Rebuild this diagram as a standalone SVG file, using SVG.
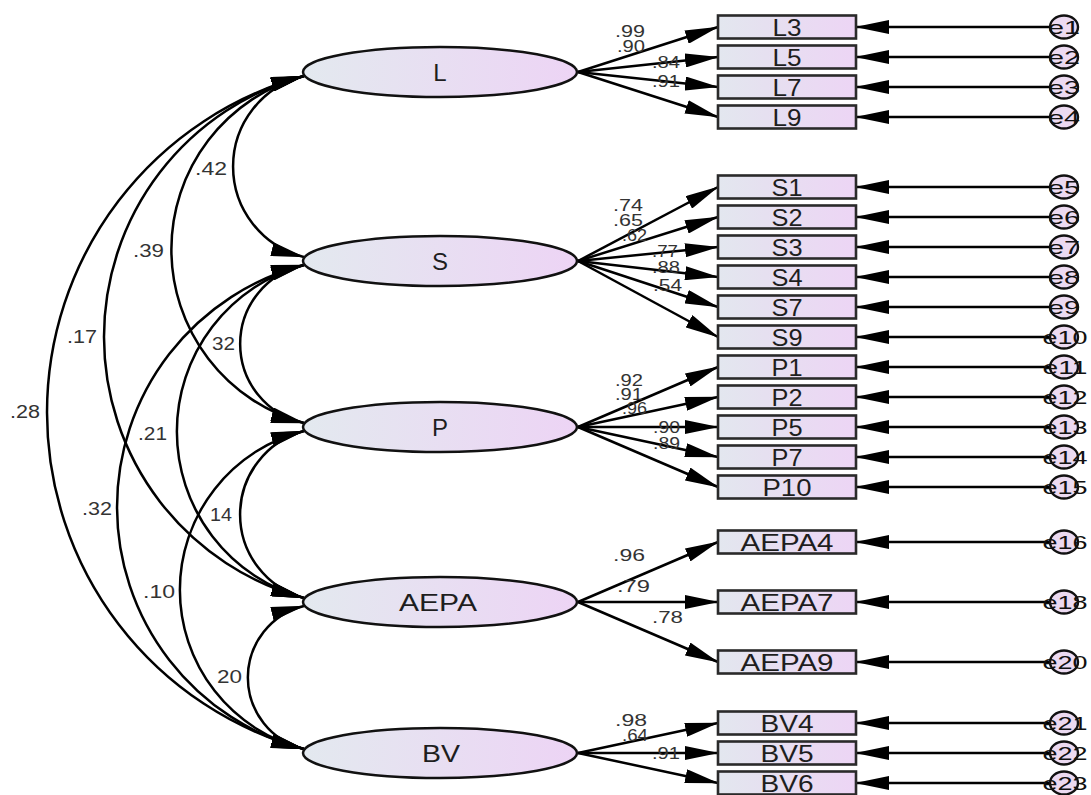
<svg xmlns="http://www.w3.org/2000/svg" width="1091" height="795" viewBox="0 0 1091 795">
<defs>
<linearGradient id="gE" x1="0" y1="0" x2="1" y2="0"><stop offset="0" stop-color="#e3e9ef"/><stop offset="1" stop-color="#edd4f5"/></linearGradient>
<linearGradient id="gB" x1="0" y1="0" x2="1" y2="0"><stop offset="0" stop-color="#e3e7ef"/><stop offset="0.35" stop-color="#e6e0f0"/><stop offset="1" stop-color="#edd5f5"/></linearGradient>
<marker id="ah" markerUnits="userSpaceOnUse" viewBox="0 0 34 14" markerWidth="34" markerHeight="14" refX="33" refY="7" orient="auto-start-reverse"><path d="M0,0 L34,7 L0,14 z" fill="#000"/></marker>
</defs>
<style>
.lat{fill:url(#gE);stroke:#111;stroke-width:2.5}
.box{fill:url(#gB);stroke:#2a2a2a;stroke-width:2.6}
.err{fill:#ecdaf1;stroke:#111;stroke-width:2.4}
.cn{fill:none;stroke:#000;stroke-width:2.5}
.arr{marker-end:url(#ah)}
.cov{marker-start:url(#ah);marker-end:url(#ah)}
text{font-family:"Liberation Sans",Arial,sans-serif}
.tl{font-size:24px;fill:#1e1e1e;text-anchor:middle}
.tb{font-size:24px;fill:#1e1e1e;text-anchor:middle}
.te{font-size:19px;fill:#111;text-anchor:middle}
.tw{font-size:17px;fill:#333}
.tc{font-size:18px;fill:#333}
</style>

<g id="connectors">
<path class="cn cov" d="M304,76 A93.2,93.2 0 0 0 304,257"/>
<path class="cn cov" d="M304,76 A179.8,179.8 0 0 0 304,423"/>
<path class="cn cov" d="M304,76 A270.3,270.3 0 0 0 304,598"/>
<path class="cn cov" d="M304,76 A348.8,348.8 0 0 0 304,749"/>
<path class="cn cov" d="M304,265 A80.8,80.8 0 0 0 304,423"/>
<path class="cn cov" d="M304,265 A172.6,172.6 0 0 0 304,598"/>
<path class="cn cov" d="M304,265 A250.1,250.1 0 0 0 304,749"/>
<path class="cn cov" d="M304,431 A86.5,86.5 0 0 0 304,598"/>
<path class="cn cov" d="M304,431 A163.9,163.9 0 0 0 304,749"/>
<path class="cn cov" d="M304,606 A73.6,73.6 0 0 0 304,749"/>
<path class="cn arr" d="M578,72 L718,27"/>
<path class="cn arr" d="M578,72 L718,57"/>
<path class="cn arr" d="M578,72 L718,87"/>
<path class="cn arr" d="M578,72 L718,117"/>
<path class="cn arr" d="M578,261 L718,187"/>
<path class="cn arr" d="M578,261 L718,217"/>
<path class="cn arr" d="M578,261 L718,247"/>
<path class="cn arr" d="M578,261 L718,277"/>
<path class="cn arr" d="M578,261 L718,307"/>
<path class="cn arr" d="M578,261 L718,337"/>
<path class="cn arr" d="M578,427 L718,367"/>
<path class="cn arr" d="M578,427 L718,397"/>
<path class="cn arr" d="M578,427 L718,427"/>
<path class="cn arr" d="M578,427 L718,457"/>
<path class="cn arr" d="M578,427 L718,487"/>
<path class="cn arr" d="M578,602 L718,542"/>
<path class="cn arr" d="M578,602 L718,602"/>
<path class="cn arr" d="M578,602 L718,662"/>
<path class="cn arr" d="M578,753 L718,723"/>
<path class="cn arr" d="M578,753 L718,753"/>
<path class="cn arr" d="M578,753 L718,783"/>
<path class="cn arr" d="M1050,27 L856,27"/>
<path class="cn arr" d="M1050,57 L856,57"/>
<path class="cn arr" d="M1050,87 L856,87"/>
<path class="cn arr" d="M1050,117 L856,117"/>
<path class="cn arr" d="M1050,187 L856,187"/>
<path class="cn arr" d="M1050,217 L856,217"/>
<path class="cn arr" d="M1050,247 L856,247"/>
<path class="cn arr" d="M1050,277 L856,277"/>
<path class="cn arr" d="M1050,307 L856,307"/>
<path class="cn arr" d="M1050,337 L856,337"/>
<path class="cn arr" d="M1050,367 L856,367"/>
<path class="cn arr" d="M1050,397 L856,397"/>
<path class="cn arr" d="M1050,427 L856,427"/>
<path class="cn arr" d="M1050,457 L856,457"/>
<path class="cn arr" d="M1050,487 L856,487"/>
<path class="cn arr" d="M1050,542 L856,542"/>
<path class="cn arr" d="M1050,602 L856,602"/>
<path class="cn arr" d="M1050,662 L856,662"/>
<path class="cn arr" d="M1050,723 L856,723"/>
<path class="cn arr" d="M1050,753 L856,753"/>
<path class="cn arr" d="M1050,783 L856,783"/>
</g>

<g id="labels-cov">
<text class="tc" x="195" y="175" textLength="32" lengthAdjust="spacingAndGlyphs">.42</text>
<text class="tc" x="133" y="257" textLength="31" lengthAdjust="spacingAndGlyphs">.39</text>
<text class="tc" x="67" y="343" textLength="30" lengthAdjust="spacingAndGlyphs">.17</text>
<text class="tc" x="10" y="418" textLength="30" lengthAdjust="spacingAndGlyphs">.28</text>
<text class="tc" x="212" y="350" textLength="23" lengthAdjust="spacingAndGlyphs">32</text>
<text class="tc" x="138" y="440" textLength="29" lengthAdjust="spacingAndGlyphs">.21</text>
<text class="tc" x="82" y="515" textLength="30" lengthAdjust="spacingAndGlyphs">.32</text>
<text class="tc" x="210" y="521" textLength="22" lengthAdjust="spacingAndGlyphs">14</text>
<text class="tc" x="143" y="598" textLength="32" lengthAdjust="spacingAndGlyphs">.10</text>
<text class="tc" x="217" y="683" textLength="25" lengthAdjust="spacingAndGlyphs">20</text>
</g>

<g id="labels-load">
<text class="tw" x="615" y="37" textLength="30" lengthAdjust="spacingAndGlyphs">.99</text>
<text class="tw" x="617" y="52" textLength="28" lengthAdjust="spacingAndGlyphs">.90</text>
<text class="tw" x="652" y="68" textLength="28" lengthAdjust="spacingAndGlyphs">.84</text>
<text class="tw" x="652" y="87" textLength="28" lengthAdjust="spacingAndGlyphs">.91</text>
<text class="tw" x="613" y="211" textLength="30" lengthAdjust="spacingAndGlyphs">.74</text>
<text class="tw" x="613" y="226" textLength="30" lengthAdjust="spacingAndGlyphs">.65</text>
<text class="tw" x="622" y="241" textLength="25" lengthAdjust="spacingAndGlyphs">.62</text>
<text class="tw" x="652" y="257" textLength="26" lengthAdjust="spacingAndGlyphs">.77</text>
<text class="tw" x="652" y="273" textLength="28" lengthAdjust="spacingAndGlyphs">.88</text>
<text class="tw" x="653" y="291" textLength="29" lengthAdjust="spacingAndGlyphs">.54</text>
<text class="tw" x="615" y="386" textLength="28" lengthAdjust="spacingAndGlyphs">.92</text>
<text class="tw" x="615" y="400" textLength="28" lengthAdjust="spacingAndGlyphs">.91</text>
<text class="tw" x="622" y="414" textLength="25" lengthAdjust="spacingAndGlyphs">.96</text>
<text class="tw" x="653" y="433" textLength="27" lengthAdjust="spacingAndGlyphs">.90</text>
<text class="tw" x="653" y="449" textLength="27" lengthAdjust="spacingAndGlyphs">.89</text>
<text class="tw" x="613" y="561" textLength="32" lengthAdjust="spacingAndGlyphs">.96</text>
<text class="tw" x="617" y="592" textLength="33" lengthAdjust="spacingAndGlyphs">.79</text>
<text class="tw" x="652" y="623" textLength="31" lengthAdjust="spacingAndGlyphs">.78</text>
<text class="tw" x="615" y="726" textLength="32" lengthAdjust="spacingAndGlyphs">.98</text>
<text class="tw" x="622" y="741" textLength="26" lengthAdjust="spacingAndGlyphs">.64</text>
<text class="tw" x="652" y="759" textLength="28" lengthAdjust="spacingAndGlyphs">.91</text>
</g>

<g id="L"><ellipse class="lat" cx="440" cy="72" rx="137" ry="25"/><text class="tl" x="440" y="81">L</text></g>
<g id="S"><ellipse class="lat" cx="440" cy="261" rx="137" ry="25"/><text class="tl" x="440" y="270">S</text></g>
<g id="P"><ellipse class="lat" cx="440" cy="427" rx="137" ry="25"/><text class="tl" x="440" y="436">P</text></g>
<g id="AEPA"><ellipse class="lat" cx="440" cy="602" rx="137" ry="25"/><text class="tl" x="438" y="611" textLength="78" lengthAdjust="spacingAndGlyphs">AEPA</text></g>
<g id="BV"><ellipse class="lat" cx="440" cy="753" rx="137" ry="25"/><text class="tl" x="441" y="762" textLength="38" lengthAdjust="spacingAndGlyphs">BV</text></g>

<g id="L3"><rect class="box" x="718" y="15.5" width="138" height="23"/><text class="tb" x="787" y="36" textLength="29" lengthAdjust="spacingAndGlyphs">L3</text></g>
<g id="L5"><rect class="box" x="718" y="45.5" width="138" height="23"/><text class="tb" x="787" y="66" textLength="29" lengthAdjust="spacingAndGlyphs">L5</text></g>
<g id="L7"><rect class="box" x="718" y="75.5" width="138" height="23"/><text class="tb" x="787" y="96" textLength="29" lengthAdjust="spacingAndGlyphs">L7</text></g>
<g id="L9"><rect class="box" x="718" y="105.5" width="138" height="23"/><text class="tb" x="787" y="126" textLength="29" lengthAdjust="spacingAndGlyphs">L9</text></g>
<g id="S1"><rect class="box" x="718" y="175.5" width="138" height="23"/><text class="tb" x="787" y="196" textLength="31" lengthAdjust="spacingAndGlyphs">S1</text></g>
<g id="S2"><rect class="box" x="718" y="205.5" width="138" height="23"/><text class="tb" x="787" y="226" textLength="31" lengthAdjust="spacingAndGlyphs">S2</text></g>
<g id="S3"><rect class="box" x="718" y="235.5" width="138" height="23"/><text class="tb" x="787" y="256" textLength="31" lengthAdjust="spacingAndGlyphs">S3</text></g>
<g id="S4"><rect class="box" x="718" y="265.5" width="138" height="23"/><text class="tb" x="787" y="286" textLength="31" lengthAdjust="spacingAndGlyphs">S4</text></g>
<g id="S7"><rect class="box" x="718" y="295.5" width="138" height="23"/><text class="tb" x="787" y="316" textLength="31" lengthAdjust="spacingAndGlyphs">S7</text></g>
<g id="S9"><rect class="box" x="718" y="325.5" width="138" height="23"/><text class="tb" x="787" y="346" textLength="31" lengthAdjust="spacingAndGlyphs">S9</text></g>
<g id="P1"><rect class="box" x="718" y="355.5" width="138" height="23"/><text class="tb" x="787" y="376" textLength="31" lengthAdjust="spacingAndGlyphs">P1</text></g>
<g id="P2"><rect class="box" x="718" y="385.5" width="138" height="23"/><text class="tb" x="787" y="406" textLength="31" lengthAdjust="spacingAndGlyphs">P2</text></g>
<g id="P5"><rect class="box" x="718" y="415.5" width="138" height="23"/><text class="tb" x="787" y="436" textLength="31" lengthAdjust="spacingAndGlyphs">P5</text></g>
<g id="P7"><rect class="box" x="718" y="445.5" width="138" height="23"/><text class="tb" x="787" y="466" textLength="31" lengthAdjust="spacingAndGlyphs">P7</text></g>
<g id="P10"><rect class="box" x="718" y="475.5" width="138" height="23"/><text class="tb" x="787" y="496" textLength="49" lengthAdjust="spacingAndGlyphs">P10</text></g>
<g id="AEPA4"><rect class="box" x="718" y="530.5" width="138" height="23"/><text class="tb" x="787" y="551" textLength="93" lengthAdjust="spacingAndGlyphs">AEPA4</text></g>
<g id="AEPA7"><rect class="box" x="718" y="590.5" width="138" height="23"/><text class="tb" x="787" y="611" textLength="93" lengthAdjust="spacingAndGlyphs">AEPA7</text></g>
<g id="AEPA9"><rect class="box" x="718" y="650.5" width="138" height="23"/><text class="tb" x="787" y="671" textLength="93" lengthAdjust="spacingAndGlyphs">AEPA9</text></g>
<g id="BV4"><rect class="box" x="718" y="711.5" width="138" height="23"/><text class="tb" x="787" y="732" textLength="53" lengthAdjust="spacingAndGlyphs">BV4</text></g>
<g id="BV5"><rect class="box" x="718" y="741.5" width="138" height="23"/><text class="tb" x="787" y="762" textLength="53" lengthAdjust="spacingAndGlyphs">BV5</text></g>
<g id="BV6"><rect class="box" x="718" y="771.5" width="138" height="23"/><text class="tb" x="787" y="792" textLength="53" lengthAdjust="spacingAndGlyphs">BV6</text></g>

<g id="e1"><ellipse class="err" cx="1064" cy="27" rx="14" ry="11.5"/><text class="te" x="1064" y="34" textLength="32" lengthAdjust="spacingAndGlyphs">e1</text></g>
<g id="e2"><ellipse class="err" cx="1064" cy="57" rx="14" ry="11.5"/><text class="te" x="1064" y="64" textLength="32" lengthAdjust="spacingAndGlyphs">e2</text></g>
<g id="e3"><ellipse class="err" cx="1064" cy="87" rx="14" ry="11.5"/><text class="te" x="1064" y="94" textLength="32" lengthAdjust="spacingAndGlyphs">e3</text></g>
<g id="e4"><ellipse class="err" cx="1064" cy="117" rx="14" ry="11.5"/><text class="te" x="1064" y="124" textLength="32" lengthAdjust="spacingAndGlyphs">e4</text></g>
<g id="e5"><ellipse class="err" cx="1064" cy="187" rx="14" ry="11.5"/><text class="te" x="1064" y="194" textLength="32" lengthAdjust="spacingAndGlyphs">e5</text></g>
<g id="e6"><ellipse class="err" cx="1064" cy="217" rx="14" ry="11.5"/><text class="te" x="1064" y="224" textLength="32" lengthAdjust="spacingAndGlyphs">e6</text></g>
<g id="e7"><ellipse class="err" cx="1064" cy="247" rx="14" ry="11.5"/><text class="te" x="1064" y="254" textLength="32" lengthAdjust="spacingAndGlyphs">e7</text></g>
<g id="e8"><ellipse class="err" cx="1064" cy="277" rx="14" ry="11.5"/><text class="te" x="1064" y="284" textLength="32" lengthAdjust="spacingAndGlyphs">e8</text></g>
<g id="e9"><ellipse class="err" cx="1064" cy="307" rx="14" ry="11.5"/><text class="te" x="1064" y="314" textLength="32" lengthAdjust="spacingAndGlyphs">e9</text></g>
<g id="e10"><ellipse class="err" cx="1064" cy="337" rx="14" ry="11.5"/><text class="te" x="1065" y="344" textLength="45" lengthAdjust="spacingAndGlyphs">e10</text></g>
<g id="e11"><ellipse class="err" cx="1064" cy="367" rx="14" ry="11.5"/><text class="te" x="1065" y="374" textLength="45" lengthAdjust="spacingAndGlyphs">e11</text></g>
<g id="e12"><ellipse class="err" cx="1064" cy="397" rx="14" ry="11.5"/><text class="te" x="1065" y="404" textLength="45" lengthAdjust="spacingAndGlyphs">e12</text></g>
<g id="e13"><ellipse class="err" cx="1064" cy="427" rx="14" ry="11.5"/><text class="te" x="1065" y="434" textLength="45" lengthAdjust="spacingAndGlyphs">e13</text></g>
<g id="e14"><ellipse class="err" cx="1064" cy="457" rx="14" ry="11.5"/><text class="te" x="1065" y="464" textLength="45" lengthAdjust="spacingAndGlyphs">e14</text></g>
<g id="e15"><ellipse class="err" cx="1064" cy="487" rx="14" ry="11.5"/><text class="te" x="1065" y="494" textLength="45" lengthAdjust="spacingAndGlyphs">e15</text></g>
<g id="e16"><ellipse class="err" cx="1064" cy="542" rx="14" ry="11.5"/><text class="te" x="1065" y="549" textLength="45" lengthAdjust="spacingAndGlyphs">e16</text></g>
<g id="e18"><ellipse class="err" cx="1064" cy="602" rx="14" ry="11.5"/><text class="te" x="1065" y="609" textLength="45" lengthAdjust="spacingAndGlyphs">e18</text></g>
<g id="e20"><ellipse class="err" cx="1064" cy="662" rx="14" ry="11.5"/><text class="te" x="1065" y="669" textLength="45" lengthAdjust="spacingAndGlyphs">e20</text></g>
<g id="e21"><ellipse class="err" cx="1064" cy="723" rx="14" ry="11.5"/><text class="te" x="1065" y="730" textLength="45" lengthAdjust="spacingAndGlyphs">e21</text></g>
<g id="e22"><ellipse class="err" cx="1064" cy="753" rx="14" ry="11.5"/><text class="te" x="1065" y="760" textLength="45" lengthAdjust="spacingAndGlyphs">e22</text></g>
<g id="e23"><ellipse class="err" cx="1064" cy="783" rx="14" ry="11.5"/><text class="te" x="1065" y="790" textLength="45" lengthAdjust="spacingAndGlyphs">e23</text></g>
</svg>
